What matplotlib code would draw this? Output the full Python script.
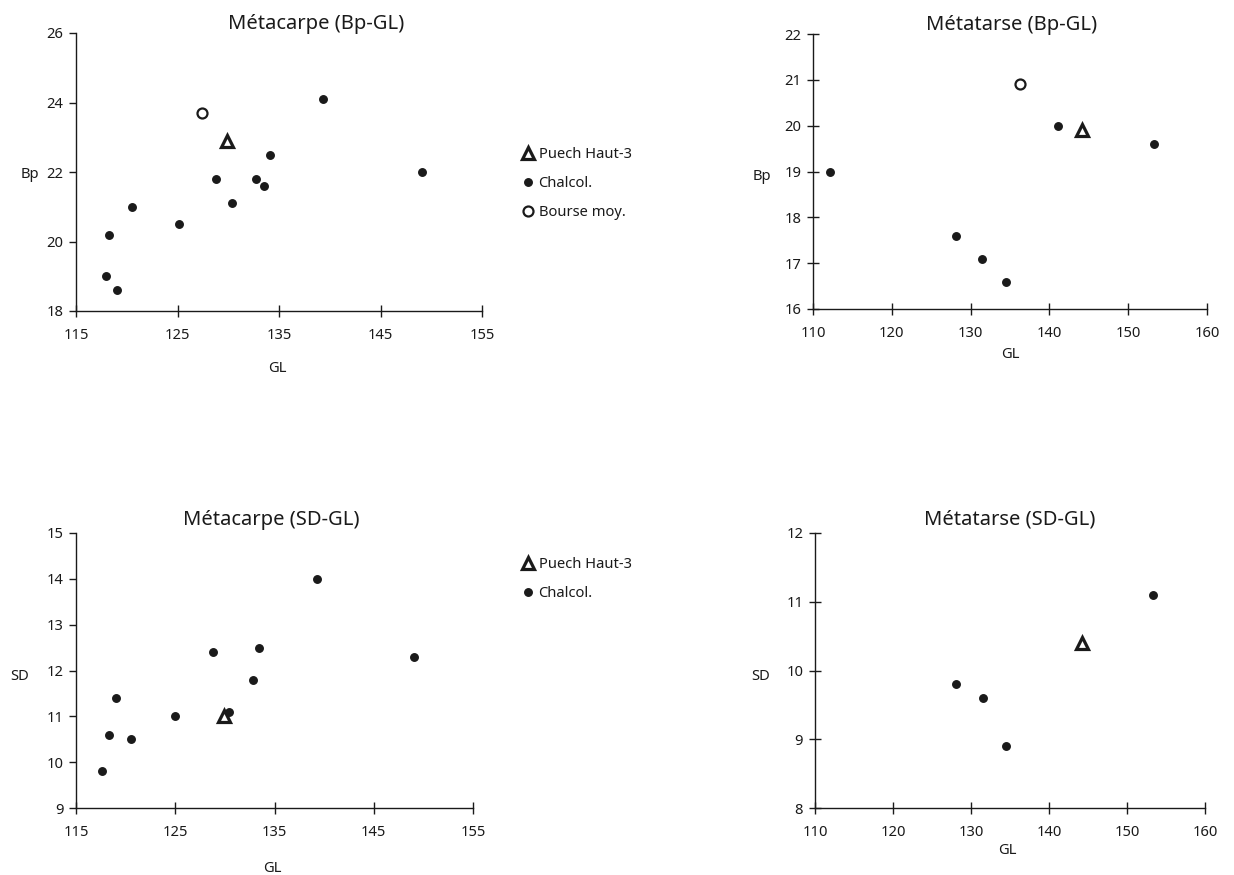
import matplotlib.pyplot as plt
from matplotlib.lines import Line2D

plt.rcParams["font.family"] = ["Noto Sans", "DejaVu Sans"]

W, H = 1234, 875

# Métacarpe (Bp-GL)
mc_bp_chalcol_gl = [139.3, 149.1, 134.1, 128.8, 132.7, 133.5, 130.4, 120.5, 125.1, 118.3, 118.0, 119.0]
mc_bp_chalcol_bp = [24.1, 22.0, 22.5, 21.8, 21.8, 21.6, 21.1, 21.0, 20.5, 20.2, 19.0, 18.6]
mc_bp_puech = (129.9, 22.9)
mc_bp_bourse = (127.4, 23.7)

# Métatarse (Bp-GL)
mt_bp_chalcol_gl = [141.1, 153.3, 112.1, 128.1, 131.5, 134.5]
mt_bp_chalcol_bp = [20.0, 19.6, 19.0, 17.6, 17.1, 16.6]
mt_bp_puech = (144.2, 19.9)
mt_bp_bourse = (136.3, 20.9)

# Métacarpe (SD-GL)
mc_sd_chalcol_gl = [139.3, 149.1, 133.4, 128.8, 132.8, 130.4, 125.0, 119.0, 118.3, 120.5, 117.6]
mc_sd_chalcol_sd = [14.0, 12.3, 12.5, 12.4, 11.8, 11.1, 11.0, 11.4, 10.6, 10.5, 9.8]
mc_sd_puech = (129.9, 11.0)

# Métatarse (SD-GL)
mt_sd_chalcol_gl = [153.3, 128.1, 131.5, 134.5]
mt_sd_chalcol_sd = [11.1, 9.8, 9.6, 8.9]
mt_sd_puech = (144.2, 10.4)

INK = "#1a1a1a"
TICK_FS = 10.6
LABEL_FS = 10.6
TITLE_FS = 14.5


def px_axes(left, right, top, bottom):
    return fig.add_axes([left / W, 1 - bottom / H, (right - left) / W, (bottom - top) / H])


def ftext(x, y, s, **kw):
    fig.text(x / W, 1 - y / H, s, color=INK, **kw)


def style_axes(ax, xlim, xticks, ylim, yticks):
    ax.set_xlim(*xlim)
    ax.set_ylim(*ylim)
    ax.set_xticks(xticks)
    ax.set_yticks(yticks)
    for side in ["top", "right"]:
        ax.spines[side].set_visible(False)
    for side in ["left", "bottom"]:
        ax.spines[side].set_color(INK)
        ax.spines[side].set_linewidth(1.0)
    ax.tick_params(axis="x", direction="inout", length=9, width=1.0, colors=INK,
                   labelsize=TICK_FS, pad=8)
    ax.tick_params(axis="y", direction="out", length=5, width=1.0, colors=INK,
                   labelsize=TICK_FS, pad=4)
    ax.patch.set_alpha(0)


def draw_points(ax, chalcol_x, chalcol_y, puech, bourse=None):
    ax.plot(chalcol_x, chalcol_y, "o", color=INK, ms=5.4, ls="none", clip_on=False)
    if bourse is not None:
        ax.plot([bourse[0]], [bourse[1]], "o", mfc="white", mec=INK, mew=1.6, ms=7.2,
                ls="none", clip_on=False)
    ax.plot([puech[0]], [puech[1]], "^", mfc="white", mec=INK, mew=2.3, ms=9,
            ls="none", clip_on=False)


fig = plt.figure(figsize=(W / 100, H / 100), dpi=100)

# top-left
ax1 = px_axes(76, 482, 33, 311)
style_axes(ax1, (115, 155), range(115, 156, 10), (18, 26), range(18, 27, 2))
draw_points(ax1, mc_bp_chalcol_gl, mc_bp_chalcol_bp, mc_bp_puech, mc_bp_bourse)
ftext(316, 24, "Métacarpe (Bp-GL)", fontsize=TITLE_FS, ha="center", va="center")
ftext(277, 368, "GL", fontsize=LABEL_FS, ha="center", va="center")
ftext(30, 175, "Bp", fontsize=LABEL_FS, ha="center", va="center")

# top-right
ax2 = px_axes(813, 1207, 34, 309)
style_axes(ax2, (110, 160), range(110, 161, 10), (16, 22), range(16, 23, 1))
ax2.tick_params(axis="y", direction="inout", length=9)
draw_points(ax2, mt_bp_chalcol_gl, mt_bp_chalcol_bp, mt_bp_puech, mt_bp_bourse)
ftext(1012, 25, "Métatarse (Bp-GL)", fontsize=TITLE_FS, ha="center", va="center")
ftext(1010, 355, "GL", fontsize=LABEL_FS, ha="center", va="center")
ftext(762, 177, "Bp", fontsize=LABEL_FS, ha="center", va="center")

# bottom-left
ax3 = px_axes(76, 473, 533, 808)
style_axes(ax3, (115, 155), range(115, 156, 10), (9, 15), range(9, 16, 1))
draw_points(ax3, mc_sd_chalcol_gl, mc_sd_chalcol_sd, mc_sd_puech)
ftext(271, 520, "Métacarpe (SD-GL)", fontsize=TITLE_FS, ha="center", va="center")
ftext(272, 868, "GL", fontsize=LABEL_FS, ha="center", va="center")
ftext(20, 677, "SD", fontsize=LABEL_FS, ha="center", va="center")

# bottom-right
ax4 = px_axes(815, 1205, 533, 808)
style_axes(ax4, (110, 160), range(110, 161, 10), (8, 12), range(8, 13, 1))
ax4.tick_params(axis="y", direction="inout", length=9)
draw_points(ax4, mt_sd_chalcol_gl, mt_sd_chalcol_sd, mt_sd_puech)
ftext(1010, 519, "Métatarse (SD-GL)", fontsize=TITLE_FS, ha="center", va="center")
ftext(1007, 851, "GL", fontsize=LABEL_FS, ha="center", va="center")
ftext(761, 676, "SD", fontsize=LABEL_FS, ha="center", va="center")

# legends
h_puech = Line2D([], [], marker="^", mfc="white", mec=INK, mew=2.3, ms=9, ls="none")
h_chalcol = Line2D([], [], marker="o", color=INK, ms=5.4, ls="none")
h_bourse = Line2D([], [], marker="o", mfc="white", mec=INK, mew=1.6, ms=7.2, ls="none")

leg_kw = dict(frameon=False, fontsize=LABEL_FS, handlelength=0.8, handletextpad=0.3,
              labelspacing=0.95, borderpad=0, labelcolor=INK)
fig.legend([h_puech, h_chalcol, h_bourse], ["Puech Haut-3", "Chalcol.", "Bourse moy."],
           loc="upper left", bbox_to_anchor=(515 / W, 1 - 140 / H), **leg_kw)
fig.legend([h_puech, h_chalcol], ["Puech Haut-3", "Chalcol."],
           loc="upper left", bbox_to_anchor=(515 / W, 1 - 550 / H), **leg_kw)

fig.savefig("out.png", dpi=100)
